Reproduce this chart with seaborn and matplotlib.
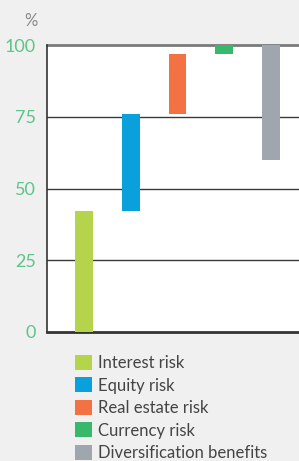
import matplotlib
matplotlib.use("Agg")
import matplotlib.pyplot as plt
import seaborn as sns
import pandas as pd

# Risk contributions (stacked waterfall, in %)
categories = ["Interest risk", "Equity risk", "Real estate risk",
              "Currency risk", "Diversification benefits"]
bottoms = [0, 42, 76, 97, 60]
tops = [42, 76, 97, 100, 100]
colors = ["#b5d44b", "#0aa0dc", "#f37142", "#37b86a", "#a0a6ae"]
yticks = [0, 25, 50, 75, 100]

df = pd.DataFrame({"category": categories,
                   "height": [t - b for t, b in zip(tops, bottoms)],
                   "bottom": bottoms})

sns.set_style("white")
plt.rcParams["font.family"] = ["Lato", "DejaVu Sans"]

fig = plt.figure(figsize=(2.99, 4.61), dpi=100, facecolor="#f0f0f0")
ax = fig.add_axes([47 / 299, 1 - 332 / 461, 1 - 47 / 299, (332 - 45) / 461])
ax.set_facecolor("white")

sns.barplot(data=df, x="category", y="height", hue="category",
            order=categories, hue_order=categories, palette=colors,
            saturation=1, width=0.38, dodge=False, legend=True, ax=ax,
            linewidth=0, edgecolor="none", zorder=3)

# shift each bar to start at its bottom value
for patch, b in zip(ax.patches, df["bottom"]):
    patch.set_y(b)

ax.set_ylim(0, 100)
ax.set_xlim(-0.79, 4.6)
ax.set_yticks(yticks)
ax.set_yticklabels([str(v) for v in yticks], color="#5dc48a", fontsize=13)
ax.tick_params(axis="y", length=0, pad=8)
ax.set_xticks([])
ax.set_xlabel("")
ax.set_ylabel("")

for v in [25, 50, 75]:
    ax.axhline(v, color="#3a3a3a", lw=1.0, zorder=1)
ax.axhline(100, color="#7a7a7a", lw=2.0, zorder=1, clip_on=False)

for s in ["top", "right"]:
    ax.spines[s].set_visible(False)
ax.spines["left"].set_color("#333333")
ax.spines["left"].set_linewidth(1.2)
ax.spines["bottom"].set_color("#333333")
ax.spines["bottom"].set_linewidth(2.0)

fig.text(31 / 299, 1 - 21 / 461, "%", color="#888888", fontsize=12,
         ha="center", va="center")

handles, labels = ax.get_legend_handles_labels()
ax.legend(handles, labels, loc="upper left",
          bbox_to_anchor=(75 / 299, 1 - 355 / 461),
          bbox_transform=fig.transFigure, frameon=False,
          fontsize=12, labelcolor="#444444", handlelength=1.0,
          handleheight=1.0, handletextpad=0.4, labelspacing=0.38,
          borderaxespad=0, borderpad=0)

fig.savefig("out.png", dpi=100, facecolor=fig.get_facecolor())
